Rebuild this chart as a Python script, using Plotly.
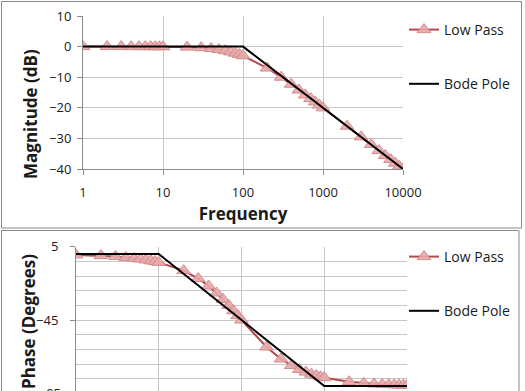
import plotly.graph_objects as go

W, H = 525, 391

# ---- data ----
freq = [1, 2, 3, 4, 5, 6, 7, 8, 9, 10,
        20, 30, 40, 50, 60, 70, 80, 90, 100,
        200, 300, 400, 500, 600, 700, 800, 900, 1000,
        2000, 3000, 4000, 5000, 6000, 7000, 8000, 9000, 10000]
low_pass_mag = [0.0, 0.0, 0.0, -0.01, -0.01, -0.02, -0.02, -0.03, -0.04, -0.04,
                -0.17, -0.37, -0.64, -0.97, -1.34, -1.73, -2.15, -2.58, -3.0,
                -7.0, -10.0, -12.3, -14.2, -15.8, -17.0, -18.1, -19.1, -20.0,
                -26.0, -29.5, -32.0, -34.0, -35.6, -36.9, -38.1, -39.1, -40.0]
low_pass_phase = [-0.6, -1.1, -1.7, -2.3, -2.9, -3.4, -4.0, -4.6, -5.1, -5.7,
                  -11.3, -16.7, -21.8, -26.6, -31.0, -35.0, -38.7, -42.0, -45.0,
                  -63.4, -71.6, -76.0, -78.7, -80.5, -81.9, -82.9, -83.7, -84.3,
                  -87.1, -88.1, -88.6, -88.9, -89.0, -89.2, -89.3, -89.4, -89.4]
bode_mag_f = [1, 100, 10000]
bode_mag = [0, 0, -40]
bode_phase_f = [1, 10, 1000, 10000]
bode_phase = [0, 0, -90, -90]
x_ticks = [1, 10, 100, 1000, 10000]
x_tick_text = ["1", "10", "100", "1000", "10000"]

FONT = "Open Sans"
TXT = "#1a1a1a"
GRID = "#C6C6C6"
AXL = "#8C8C8C"
LP_LINE = "#B5484B"
LP_FILL = "rgba(232,170,170,0.9)"
LP_EDGE = "#D08C8C"

def px(x):
    return x / W

def py(y):
    return 1 - y / H

fig = go.Figure()

mk = dict(symbol="triangle-up", size=12, color=LP_FILL, line=dict(color=LP_EDGE, width=1))

fig.add_trace(go.Scatter(x=freq, y=low_pass_mag, mode="lines+markers", name="Low Pass",
                         line=dict(color=LP_LINE, width=2), marker=mk,
                         xaxis="x", yaxis="y", legend="legend", legendgroup="a"))
fig.add_trace(go.Scatter(x=bode_mag_f, y=bode_mag, mode="lines", name="Bode Pole",
                         line=dict(color="black", width=2),
                         xaxis="x", yaxis="y", legend="legend", legendgroup="b"))
fig.add_trace(go.Scatter(x=freq, y=low_pass_phase, mode="lines+markers", name="Low Pass",
                         line=dict(color=LP_LINE, width=2), marker=mk,
                         xaxis="x2", yaxis="y2", legend="legend2", legendgroup="c"))
fig.add_trace(go.Scatter(x=bode_phase_f, y=bode_phase, mode="lines", name="Bode Pole",
                         line=dict(color="black", width=2),
                         xaxis="x2", yaxis="y2", legend="legend2", legendgroup="d"))

tickfont = dict(family=FONT, size=13, color=TXT)

fig.update_layout(
    template="none",
    width=W, height=H,
    margin=dict(l=0, r=0, t=0, b=0, autoexpand=False),
    paper_bgcolor="white", plot_bgcolor="white",
    font=dict(family=FONT, color=TXT),
    xaxis=dict(type="log", range=[0, 4], domain=[px(83), px(403)], anchor="y",
               automargin=False,
               tickvals=x_ticks, ticktext=x_tick_text, tickfont=tickfont,
               showgrid=True, gridcolor=GRID, gridwidth=1,
               showline=True, linecolor=AXL, linewidth=1,
               ticks="outside", ticklen=5, tickcolor=AXL, ticklabelstandoff=6,
               zeroline=False,
               title=dict(text="<b>Frequency</b>", font=dict(family=FONT, size=17, color=TXT),
                          standoff=8)),
    yaxis=dict(range=[-40, 10], domain=[py(169), py(16)], anchor="x",
               automargin=False,
               dtick=10, tickfont=tickfont,
               showgrid=True, gridcolor=GRID, gridwidth=1,
               showline=True, linecolor=AXL, linewidth=1,
               ticks="outside", ticklen=5, tickcolor=AXL, ticklabelstandoff=3,
               zeroline=False),
    xaxis2=dict(type="log", range=[0, 4], domain=[px(76), px(407)], anchor="y2",
                automargin=False,
                tickvals=x_ticks, showticklabels=False,
                showgrid=True, gridcolor=GRID, gridwidth=1,
                showline=False, zeroline=False),
    yaxis2=dict(range=[-93.4, 5], domain=[0, py(246.7)], anchor="x2",
                automargin=False,
                tickmode="array", tickvals=[5, -45, -95], tickfont=tickfont,
                showgrid=True, gridcolor=GRID, gridwidth=1,
                minor=dict(tickmode="array", tickvals=[-5, -15, -25, -35, -55, -65, -75, -85],
                           showgrid=True, gridcolor=GRID, gridwidth=1),
                showline=True, linecolor=AXL, linewidth=1,
                ticks="outside", ticklen=5, tickcolor=AXL, ticklabelstandoff=9,
                zeroline=False),
    legend=dict(x=px(404), y=py(14), xanchor="left", yanchor="top",
                font=dict(family=FONT, size=14, color=TXT),
                tracegroupgap=33, bgcolor="rgba(0,0,0,0)"),
    legend2=dict(x=px(404), y=py(241), xanchor="left", yanchor="top",
                 font=dict(family=FONT, size=14, color=TXT),
                 tracegroupgap=33, bgcolor="rgba(0,0,0,0)"),
    showlegend=True,
)

# axis titles placed like the spreadsheet (centred on the chart area)
fig.add_annotation(text="<b>Magnitude (dB)</b>", xref="paper", yref="paper",
                   x=px(30), y=py(114), xanchor="center", yanchor="middle",
                   textangle=-90, showarrow=False,
                   font=dict(family=FONT, size=17, color=TXT))
fig.add_annotation(text="<b>Phase (Degrees)</b>", xref="paper", yref="paper",
                   x=px(28), y=py(322), xanchor="center", yanchor="middle",
                   textangle=-90, showarrow=False,
                   font=dict(family=FONT, size=17, color=TXT))
# partially visible lowest tick label of the phase axis
fig.add_annotation(text="-95", xref="paper", yref="paper",
                   x=px(63), y=py(393), xanchor="right", yanchor="middle",
                   showarrow=False, font=tickfont)

# chart-area frames
fig.add_shape(type="rect", xref="paper", yref="paper",
              x0=px(1.5), x1=px(521.5), y0=py(228), y1=py(1.5),
              line=dict(color="#8a8a8a", width=1), layer="below")
fig.add_shape(type="rect", xref="paper", yref="paper",
              x0=px(1.5), x1=px(519), y0=py(400), y1=py(230.5),
              line=dict(color="#8a8a8a", width=1), layer="below")

fig.write_html("out.html", config={"displayModeBar": False},
               post_script="document.body.style.margin='0';")
